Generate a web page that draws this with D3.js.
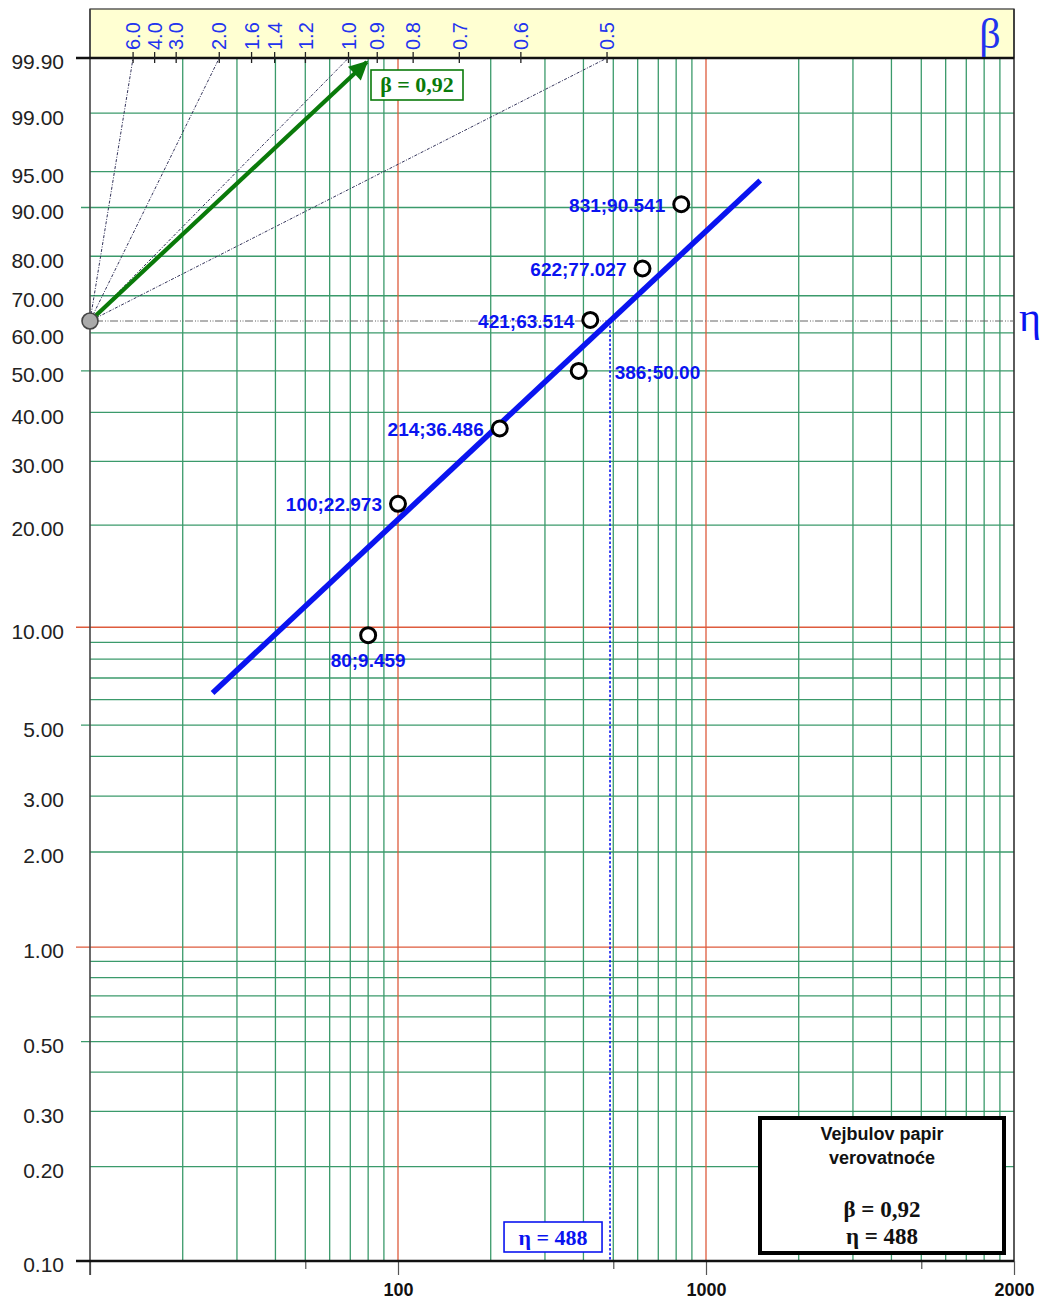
<!DOCTYPE html>
<html>
<head>
<meta charset="utf-8">
<script src="https://cdn.jsdelivr.net/npm/d3@7"></script>
<style>
  body { margin: 0; background: #fff; }
  svg { font-family: "Liberation Sans", Arial, sans-serif; }
  .serif { font-family: "Liberation Serif", "Times New Roman", serif; }
</style>
</head>
<body>
<svg id="chart" width="1043" height="1302"></svg>
<script>
// Failure times and median-rank probabilities (%)
const times = [80, 100, 214, 386, 421, 622, 831];
const probs = [9.459, 22.973, 36.486, 50.00, 63.514, 77.027, 90.541];
const labelSide = ["below", "left", "left", "right", "left", "left", "left"];

// Weibull fit parameters
const beta = 0.92;
const eta = 488;
const fitRange = [25, 1500];

// Probability axis (%)
const probLabels = [0.1, 0.2, 0.3, 0.5, 1, 2, 3, 5, 10, 20, 30, 40, 50, 60, 70, 80, 90, 95, 99, 99.9];
const probMinor = [0.4, 0.6, 0.7, 0.8, 0.9, 4, 6, 7, 8, 9];
const probRed = [1, 10];
const probTicked = [0.5, 5, 50, 90];

// Time axis
const timeGrid = [20, 30, 40, 50, 60, 70, 80, 90,
                  200, 300, 400, 500, 600, 700, 800, 900,
                  2000, 3000, 4000, 5000, 6000, 7000, 8000, 9000];
const timeRed = [100, 1000];
const timeTicks = [10, 50, 100, 500, 1000, 5000, 10000];
const timeLabelValues = [100, 1000, 10000];
const timeLabelText = ["100", "1000", "2000"];

// Beta (slope) scale along the top
const betaTicks = [6.0, 4.0, 3.0, 2.0, 1.6, 1.4, 1.2, 1.0, 0.9, 0.8, 0.7, 0.6, 0.5];
const betaRays = [6.0, 2.0, 1.0, 0.5];

const GREEN = "#3b9a6b", RED = "#de5b3c", BLUE = "#0a14f0";

const svg = d3.select("#chart");
const L = 90, R = 1014, T = 58, B = 1261, BAND = 9;

// Weibull probability transform: ln(-ln(1-F))
const wb = p => Math.log(-Math.log(1 - p / 100));
const x = d3.scaleLog().domain([10, 10000]).range([L, R]);
const yw = d3.scaleLinear().domain([wb(0.1), wb(99.9)]).range([B, T]);
const y = p => yw(wb(p));

// top band
svg.append("rect").attr("x", L).attr("y", BAND).attr("width", R - L).attr("height", T - BAND)
  .attr("fill", "#ffffd2").attr("stroke", "#333").attr("stroke-width", 1.2);

// grid: horizontal
const g = svg.append("g");
g.selectAll(".hminor").data(probMinor.concat(probLabels.filter(p => p > 0.1 && p < 99.9 && !probRed.includes(p))))
  .join("line")
  .attr("x1", d => probTicked.includes(d) ? L - 9 : L).attr("x2", R)
  .attr("y1", d => y(d)).attr("y2", d => y(d))
  .attr("stroke", GREEN).attr("stroke-width", 1.3);
g.selectAll(".hred").data(probRed).join("line")
  .attr("x1", L - 14).attr("x2", R)
  .attr("y1", d => y(d)).attr("y2", d => y(d))
  .attr("stroke", RED).attr("stroke-width", 1.3);

// grid: vertical
g.selectAll(".vg").data(timeGrid).join("line")
  .attr("x1", d => x(d)).attr("x2", d => x(d)).attr("y1", T).attr("y2", B)
  .attr("stroke", GREEN).attr("stroke-width", 1.3);
g.selectAll(".vr").data(timeRed).join("line")
  .attr("x1", d => x(d)).attr("x2", d => x(d)).attr("y1", T).attr("y2", B)
  .attr("stroke", RED).attr("stroke-width", 1.3);

// x axis ticks & labels
const xAxis = d3.axisBottom(x).tickValues(timeTicks)
  .tickSize(8)
  .tickFormat(d => { const i = timeLabelValues.indexOf(d); return i >= 0 ? timeLabelText[i] : ""; });
const xa = svg.append("g").attr("transform", `translate(0,${B})`).call(xAxis);
xa.attr("font-family", null);
xa.select(".domain").remove();
xa.selectAll(".tick line").attr("stroke", "#555").attr("stroke-width", 1.2)
  .attr("y2", d => (d === 50 || d === 500 || d === 5000) ? 8 : 14);
xa.selectAll(".tick text").attr("y", 22).attr("dy", "0.71em")
  .attr("font-size", 18).attr("font-weight", "bold").attr("fill", "#111");

// frame lines
svg.append("line").attr("x1", L).attr("x2", L).attr("y1", BAND).attr("y2", B + 14)
  .attr("stroke", "#444").attr("stroke-width", 1.6);
svg.append("line").attr("x1", R).attr("x2", R).attr("y1", BAND).attr("y2", B)
  .attr("stroke", "#333").attr("stroke-width", 1.6);
svg.append("line").attr("x1", L - 14).attr("x2", R).attr("y1", T).attr("y2", T)
  .attr("stroke", "#111").attr("stroke-width", 2.6);
svg.append("line").attr("x1", L - 14).attr("x2", R).attr("y1", B).attr("y2", B)
  .attr("stroke", "#111").attr("stroke-width", 2.6);

// y labels
svg.append("g").selectAll("text").data(probLabels).join("text")
  .attr("x", 64).attr("y", d => y(d) + 4).attr("dy", "0.35em")
  .attr("text-anchor", "end").attr("font-size", 21).attr("fill", "#222")
  .text(d => d.toFixed(2));

// beta scale: rays from the pivot (t = 10, F = 63.2%)
const pivot = [x(10), yw(0)];
const betaX = b => x(10 * Math.exp(wb(99.9) / b));

svg.append("g").selectAll("line").data(betaRays).join("line")
  .attr("x1", pivot[0]).attr("y1", pivot[1])
  .attr("x2", d => betaX(d)).attr("y2", T)
  .attr("stroke", "#33335a").attr("stroke-width", 1)
  .attr("stroke-dasharray", "3,1.5,1,1.5");

const bt = svg.append("g").selectAll("g").data(betaTicks).join("g")
  .attr("transform", d => `translate(${betaX(d)},0)`);
bt.append("line").attr("y1", T - 6).attr("y2", T + 5).attr("stroke", "#222").attr("stroke-width", 1.3);
bt.append("text")
  .attr("transform", `translate(0,${T - 8}) rotate(-90)`)
  .attr("dy", "0.36em").attr("text-anchor", "start")
  .attr("font-size", 20).attr("fill", "#2233ee")
  .text(d => d.toFixed(1));

svg.append("text").attr("class", "serif").attr("x", 990).attr("y", 48).attr("text-anchor", "middle")
  .attr("font-size", 42).attr("fill", "#2233ee").text("β");

// eta reference line (F = 63.2%)
svg.append("line").attr("x1", pivot[0]).attr("x2", R).attr("y1", pivot[1]).attr("y2", pivot[1])
  .attr("stroke", "#666").attr("stroke-width", 1)
  .attr("stroke-dasharray", "1,1.5,1,1.5,8,2");
svg.append("text").attr("class", "serif").attr("x", 1030).attr("y", pivot[1] + 10).attr("text-anchor", "middle")
  .attr("font-size", 42).attr("fill", BLUE).text("η");

// eta drop line
svg.append("line").attr("x1", x(eta)).attr("x2", x(eta)).attr("y1", pivot[1]).attr("y2", B)
  .attr("stroke", BLUE).attr("stroke-width", 1.6).attr("stroke-dasharray", "2.5,2");

// green beta arrow
const defs = svg.append("defs");
defs.append("marker").attr("id", "arr").attr("viewBox", "0 0 10 10")
  .attr("refX", 9).attr("refY", 5).attr("markerWidth", 5).attr("markerHeight", 4.5)
  .attr("markerUnits", "strokeWidth").attr("orient", "auto")
  .append("path").attr("d", "M0,0 L10,5 L0,10 Z").attr("fill", "#0a7a0a");
const tipX = betaX(beta);
svg.append("line").attr("x1", pivot[0]).attr("y1", pivot[1])
  .attr("x2", pivot[0] + (tipX - pivot[0]) * 0.985).attr("y2", pivot[1] + (T - pivot[1]) * 0.985)
  .attr("stroke", "#0a7a0a").attr("stroke-width", 4.2).attr("marker-end", "url(#arr)");

// pivot marker
svg.append("circle").attr("cx", pivot[0]).attr("cy", pivot[1]).attr("r", 8)
  .attr("fill", "#aaa").attr("stroke", "#444").attr("stroke-width", 1.6);

// beta label box
const bl = svg.append("g").attr("transform", `translate(${tipX},70)`);
bl.append("rect").attr("x", 0).attr("y", 0).attr("width", 92).attr("height", 30)
  .attr("fill", "#fff").attr("stroke", "#0a7a0a").attr("stroke-width", 1.6);
bl.append("text").attr("class", "serif").attr("x", 46).attr("y", 22).attr("text-anchor", "middle")
  .attr("font-weight", "bold")
  .attr("font-size", 22).attr("fill", "#0a7a0a").text(`β = ${String(beta).replace(".", ",")}`);

// fitted Weibull line
const fitF = t => 100 * (1 - Math.exp(-Math.pow(t / eta, beta)));
svg.append("path")
  .datum(fitRange)
  .attr("d", d3.line().x(d => x(d)).y(d => y(fitF(d))))
  .attr("stroke", BLUE).attr("stroke-width", 5.5).attr("fill", "none");

// data points
const pts = times.map((t, i) => ({ t, p: probs[i], side: labelSide[i] }));
svg.append("g").selectAll("circle").data(pts).join("circle")
  .attr("cx", d => x(d.t)).attr("cy", d => y(d.p)).attr("r", 7.5)
  .attr("fill", "#fff").attr("stroke", "#000").attr("stroke-width", 3);

const fmt = p => (Number.isInteger(p) ? p.toFixed(2) : String(p));
svg.append("g").selectAll("text").data(pts).join("text")
  .attr("x", d => d.side === "left" ? x(d.t) - 16 : d.side === "right" ? x(d.t) + 36 : x(d.t))
  .attr("y", d => d.side === "below" ? y(d.p) + 25 : y(d.p) + 1)
  .attr("dy", "0.35em")
  .attr("text-anchor", d => d.side === "left" ? "end" : d.side === "right" ? "start" : "middle")
  .attr("font-size", 19).attr("font-weight", "bold").attr("fill", BLUE)
  .text(d => `${d.t};${fmt(d.p)}`);

// eta value box
const eb = svg.append("g").attr("transform", `translate(${x(eta) - 106},1222)`);
eb.append("rect").attr("width", 98).attr("height", 30)
  .attr("fill", "#fff").attr("stroke", BLUE).attr("stroke-width", 1.6);
eb.append("text").attr("class", "serif").attr("x", 49).attr("y", 23).attr("text-anchor", "middle")
  .attr("font-weight", "bold")
  .attr("font-size", 22).attr("fill", BLUE).text(`η = ${eta}`);

// title box
const tb = svg.append("g").attr("transform", "translate(760,1118)");
tb.append("rect").attr("width", 244).attr("height", 135)
  .attr("fill", "#fff").attr("stroke", "#000").attr("stroke-width", 4);
tb.append("text").attr("x", 122).attr("y", 22).attr("text-anchor", "middle")
  .attr("font-size", 18).attr("font-weight", "bold").attr("fill", "#111").text("Vejbulov papir");
tb.append("text").attr("x", 122).attr("y", 46).attr("text-anchor", "middle")
  .attr("font-size", 18).attr("font-weight", "bold").attr("fill", "#111").text("verovatnoće");
tb.append("text").attr("class", "serif").attr("x", 122).attr("y", 99).attr("text-anchor", "middle")
  .attr("font-weight", "bold")
  .attr("font-size", 23).attr("fill", "#111").text(`β = ${String(beta).replace(".", ",")}`);
tb.append("text").attr("class", "serif").attr("x", 122).attr("y", 126).attr("text-anchor", "middle")
  .attr("font-weight", "bold")
  .attr("font-size", 23).attr("fill", "#111").text(`η = ${eta}`);
</script>
</body>
</html>
